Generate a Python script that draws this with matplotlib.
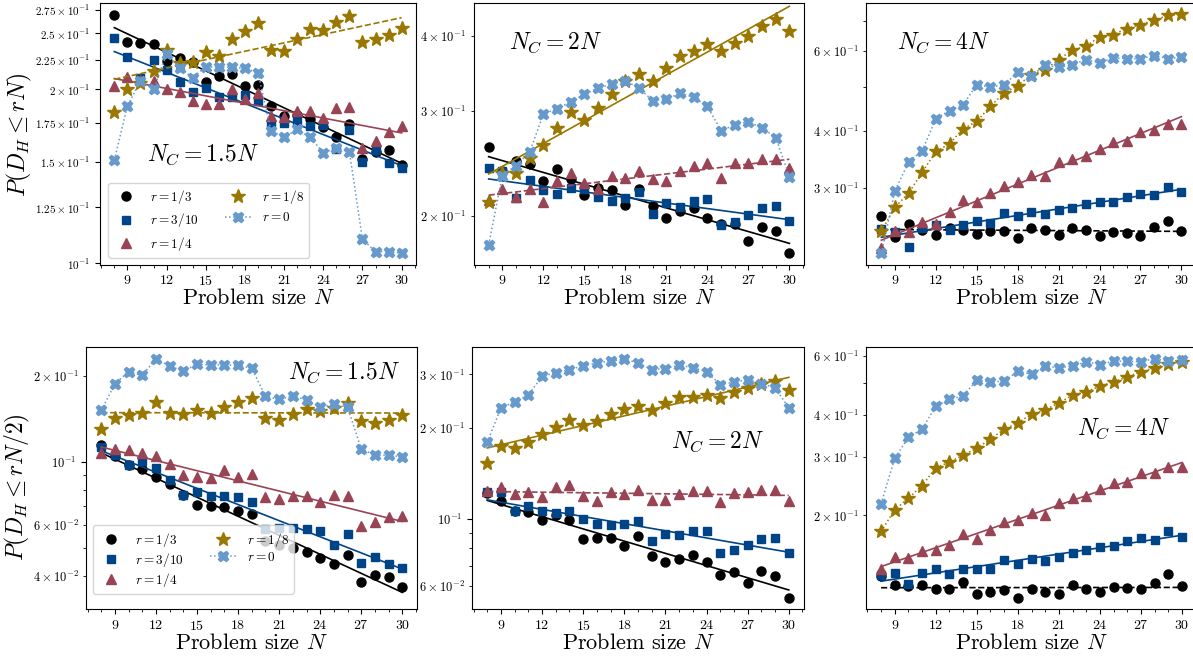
import numpy as np
import matplotlib
matplotlib.use('Agg')
import matplotlib.pyplot as plt
from matplotlib.ticker import FixedLocator, FixedFormatter, NullLocator, MultipleLocator

plt.rcParams['font.family'] = 'serif'
plt.rcParams['font.serif'] = ['cmr10']
plt.rcParams['mathtext.fontset'] = 'cm'
plt.rcParams['axes.formatter.use_mathtext'] = True

# Problem sizes
N = list(range(8, 31))

labels = [r'$r = 1/3$', r'$r = 3/10$', r'$r = 1/4$', r'$r = 1/8$', r'$r = 0$']
colors = ['black', '#004488', '#994455', '#997700', '#6699CC']
markers = ['o', 's', '^', '*', 'X']
msizes = [6.5, 6, 6.5, 10, 7.5]

# ---- P(D_H <= rN), N_C = 1.5N ----
a_r13 = [0.2689, 0.2418, 0.2410, 0.2396, 0.2239, 0.2269, 0.2227, 0.2062, 0.2112, 0.2126, 0.2027, 0.2035,
         0.1872, 0.1801, 0.1805, 0.1777, 0.1724, 0.1652, 0.1742, 0.1515, 0.1560, 0.1571, 0.1480]
a_r310 = [0.2457, 0.2278, 0.2089, 0.2248, 0.2160, 0.2057, 0.1976, 0.2008, 0.1937, 0.1942, 0.1955, 0.1909,
          0.1742, 0.1751, 0.1765, 0.1728, 0.1735, 0.1577, 0.1701, 0.1495, 0.1571, 0.1489, 0.1460]
a_r14 = [0.2027, 0.2098, 0.2075, 0.2070, 0.2000, 0.1976, 0.1911, 0.1886, 0.1886, 0.2000, 0.1922, 0.1974,
         0.1798, 0.1795, 0.1837, 0.1837, 0.1781, 0.1854, 0.1866, 0.1581, 0.1630, 0.1685, 0.1728]
a_r18 = [0.1825, 0.2000, 0.2049, 0.2154, 0.2339, 0.2225, 0.2233, 0.2318, 0.2288, 0.2441, 0.2523, 0.2608,
         0.2339, 0.2332, 0.2441, 0.2540, 0.2530, 0.2612, 0.2679, 0.2418, 0.2441, 0.2483, 0.2557]
a_r0 = [0.1509, 0.1872, 0.2068, 0.2000, 0.2302, 0.2175, 0.2096, 0.2189, 0.2185, 0.2185, 0.2175, 0.2138,
        0.1696, 0.1652, 0.1705, 0.1652, 0.1554, 0.1581, 0.1560, 0.1100, 0.1048, 0.1048, 0.1041]

# ---- P(D_H <= rN), N_C = 2N ----
b_r13 = [0.2604, 0.2382, 0.2473, 0.2442, 0.2292, 0.2398, 0.2306, 0.2164, 0.2226, 0.2211, 0.2086, 0.2222,
         0.2080, 0.1982, 0.2039, 0.2060, 0.1982, 0.1939, 0.1937, 0.1816, 0.1914, 0.1888, 0.1732]
b_r310 = [0.2410, 0.2374, 0.2146, 0.2298, 0.2211, 0.2178, 0.2231, 0.2222, 0.2154, 0.2119, 0.2146, 0.2192,
          0.2015, 0.2100, 0.2073, 0.2121, 0.2132, 0.1931, 0.1957, 0.2008, 0.2060, 0.2079, 0.1962]
b_r14 = [0.2128, 0.2222, 0.2154, 0.2222, 0.2114, 0.2284, 0.2358, 0.2268, 0.2222, 0.2334, 0.2313, 0.2382,
         0.2304, 0.2289, 0.2380, 0.2420, 0.2450, 0.2319, 0.2456, 0.2450, 0.2491, 0.2495, 0.2410]
b_r18 = [0.2108, 0.2358, 0.2358, 0.2505, 0.2630, 0.2812, 0.2990, 0.2890, 0.3038, 0.3202, 0.3368, 0.3460,
         0.3360, 0.3536, 0.3708, 0.3780, 0.3880, 0.3780, 0.3894, 0.4010, 0.4152, 0.4278, 0.4074]
b_r0 = [0.1788, 0.2337, 0.2429, 0.2557, 0.2962, 0.3023, 0.3108, 0.3198, 0.3273, 0.3325, 0.3368, 0.3273,
        0.3121, 0.3136, 0.3210, 0.3160, 0.3050, 0.2780, 0.2840, 0.2878, 0.2806, 0.2706, 0.2328]

# ---- P(D_H <= rN), N_C = 4N ----
c_r13 = [0.2597, 0.2329, 0.2493, 0.2418, 0.2357, 0.2447, 0.2420, 0.2365, 0.2406, 0.2409, 0.2317, 0.2439,
         0.2418, 0.2357, 0.2439, 0.2418, 0.2349, 0.2398, 0.2378, 0.2346, 0.2460, 0.2531, 0.2406]
c_r310 = [0.2427, 0.2390, 0.2221, 0.2439, 0.2481, 0.2418, 0.2481, 0.2531, 0.2510, 0.2640, 0.2589, 0.2655,
          0.2619, 0.2677, 0.2700, 0.2756, 0.2794, 0.2794, 0.2865, 0.2900, 0.2889, 0.3015, 0.2929]
c_r14 = [0.2202, 0.2406, 0.2390, 0.2514, 0.2489, 0.2645, 0.2817, 0.2784, 0.2915, 0.3026, 0.3083, 0.3202,
         0.3173, 0.3409, 0.3471, 0.3525, 0.3653, 0.3774, 0.3805, 0.3977, 0.4024, 0.4141, 0.4141]
c_r18 = [0.2406, 0.2714, 0.2915, 0.3244, 0.3603, 0.3748, 0.4044, 0.4199, 0.4534, 0.4851, 0.5036, 0.5325,
         0.5463, 0.5748, 0.6030, 0.6153, 0.6450, 0.6528, 0.6732, 0.6870, 0.7025, 0.7194, 0.7230]
c_r0 = [0.2147, 0.2954, 0.3414, 0.3620, 0.4257, 0.4435, 0.4572, 0.5061, 0.5000, 0.5055, 0.5390, 0.5298,
        0.5586, 0.5530, 0.5598, 0.5748, 0.5653, 0.5797, 0.5780, 0.5770, 0.5869, 0.5780, 0.5816]

# ---- P(D_H <= rN/2), N_C = 1.5N ----
d_r13 = [0.1141, 0.1047, 0.0974, 0.0945, 0.0886, 0.0838, 0.0764, 0.0705, 0.0700, 0.0694, 0.0672, 0.0658,
         0.0528, 0.0514, 0.0500, 0.0483, 0.0461, 0.0440, 0.0471, 0.0382, 0.0403, 0.0396, 0.0365]
d_r310 = [0.1128, 0.1061, 0.0974, 0.1005, 0.0953, 0.0867, 0.0769, 0.0785, 0.0762, 0.0758, 0.0752, 0.0722,
          0.0584, 0.0588, 0.0588, 0.0583, 0.0575, 0.0511, 0.0561, 0.0445, 0.0464, 0.0441, 0.0426]
d_r14 = [0.1075, 0.1110, 0.1099, 0.1075, 0.1052, 0.0984, 0.0898, 0.0886, 0.0879, 0.0935, 0.0886, 0.0910,
         0.0752, 0.0744, 0.0758, 0.0762, 0.0724, 0.0769, 0.0758, 0.0596, 0.0615, 0.0642, 0.0645]
d_r18 = [0.1305, 0.1426, 0.1457, 0.1484, 0.1622, 0.1484, 0.1465, 0.1517, 0.1484, 0.1558, 0.1622, 0.1666,
         0.1426, 0.1406, 0.1465, 0.1525, 0.1504, 0.1546, 0.1609, 0.1388, 0.1362, 0.1406, 0.1453]
d_r0 = [0.1513, 0.1875, 0.2066, 0.2005, 0.2294, 0.2162, 0.2077, 0.2191, 0.2182, 0.2182, 0.2175, 0.2121,
        0.1698, 0.1652, 0.1698, 0.1644, 0.1553, 0.1587, 0.1553, 0.1110, 0.1055, 0.1055, 0.1041]

# ---- P(D_H <= rN/2), N_C = 2N ----
e_r13 = [0.1215, 0.1141, 0.1063, 0.1052, 0.0987, 0.1026, 0.0987, 0.0857, 0.0864, 0.0864, 0.0815, 0.0874,
         0.0751, 0.0718, 0.0738, 0.0761, 0.0720, 0.0650, 0.0665, 0.0614, 0.0671, 0.0646, 0.0548]
e_r310 = [0.1224, 0.1224, 0.1063, 0.1098, 0.1057, 0.1044, 0.1057, 0.1000, 0.0960, 0.0955, 0.0963, 0.0985,
          0.0842, 0.0893, 0.0881, 0.0913, 0.0913, 0.0771, 0.0790, 0.0817, 0.0857, 0.0864, 0.0771]
e_r14 = [0.1237, 0.1278, 0.1209, 0.1224, 0.1179, 0.1272, 0.1294, 0.1191, 0.1149, 0.1224, 0.1206, 0.1240,
         0.1155, 0.1155, 0.1206, 0.1237, 0.1237, 0.1132, 0.1215, 0.1224, 0.1246, 0.1246, 0.1149]
e_r18 = [0.1533, 0.1741, 0.1719, 0.1789, 0.1906, 0.2016, 0.2120, 0.2041, 0.2110, 0.2213, 0.2305, 0.2364,
         0.2289, 0.2406, 0.2518, 0.2518, 0.2576, 0.2512, 0.2616, 0.2710, 0.2786, 0.2858, 0.2663]
e_r0 = [0.1789, 0.2328, 0.2437, 0.2563, 0.2961, 0.3037, 0.3115, 0.3203, 0.3277, 0.3323, 0.3369, 0.3277,
        0.3115, 0.3139, 0.3218, 0.3162, 0.3063, 0.2779, 0.2830, 0.2886, 0.2798, 0.2710, 0.2328]

# ---- P(D_H <= rN/2), N_C = 4N ----
f_r13 = [0.1315, 0.1242, 0.1230, 0.1236, 0.1206, 0.1208, 0.1262, 0.1160, 0.1178, 0.1195, 0.1133, 0.1206,
         0.1181, 0.1160, 0.1236, 0.1206, 0.1181, 0.1219, 0.1214, 0.1208, 0.1257, 0.1336, 0.1234]
f_r310 = [0.1330, 0.1345, 0.1250, 0.1345, 0.1383, 0.1336, 0.1380, 0.1380, 0.1385, 0.1475, 0.1431, 0.1480,
          0.1458, 0.1502, 0.1544, 0.1580, 0.1609, 0.1615, 0.1680, 0.1711, 0.1692, 0.1800, 0.1719]
f_r14 = [0.1383, 0.1498, 0.1493, 0.1562, 0.1580, 0.1635, 0.1763, 0.1704, 0.1812, 0.1906, 0.1941, 0.2032,
         0.2000, 0.2176, 0.2253, 0.2294, 0.2396, 0.2498, 0.2527, 0.2676, 0.2676, 0.2788, 0.2796]
f_r18 = [0.1792, 0.2079, 0.2253, 0.2458, 0.2782, 0.2886, 0.3034, 0.3178, 0.3388, 0.3620, 0.3790, 0.4014,
         0.4136, 0.4350, 0.4584, 0.4688, 0.4878, 0.5024, 0.5198, 0.5382, 0.5540, 0.5700, 0.5768]
f_r0 = [0.2166, 0.2966, 0.3427, 0.3628, 0.4250, 0.4450, 0.4562, 0.5082, 0.5024, 0.5046, 0.5406, 0.5294,
        0.5596, 0.5532, 0.5604, 0.5768, 0.5660, 0.5800, 0.5788, 0.5768, 0.5898, 0.5788, 0.5828]

panels = [
    # series, line styles ('-'/'--' = exp. fit, ':' = join points), ylim, text, text pos
    dict(ys=[a_r13, a_r310, a_r14, a_r18, a_r0], ls=['-', '-', '-', '--', ':'],
         ylim=(0.0993, 0.2825), note=r'$N_C = 1.5N$', pos=(0.148, 0.42),
         rect=[0.0838, 0.596, 0.2649, 0.3998]),
    dict(ys=[b_r13, b_r310, b_r14, b_r18, b_r0], ls=['-', '-', '--', '-', ':'],
         ylim=(0.1655, 0.455), note=r'$N_C = 2N$', pos=(0.107, 0.848),
         rect=[0.397, 0.596, 0.2773, 0.3998]),
    dict(ys=[c_r13, c_r310, c_r14, c_r18, c_r0], ls=['--', '-', '-', ':', ':'],
         ylim=(0.2023, 0.7674), note=r'$N_C = 4N$', pos=(0.092, 0.848),
         rect=[0.7262, 0.596, 0.2766, 0.3998]),
    dict(ys=[d_r13, d_r310, d_r14, d_r18, d_r0], ls=['-', '-', '-', '--', ':'],
         ylim=(0.0305, 0.252), note=r'$N_C = 1.5N$', pos=(0.609, 0.90),
         rect=[0.0723, 0.0709, 0.2775, 0.4002]),
    dict(ys=[e_r13, e_r310, e_r14, e_r18, e_r0], ls=['-', '-', '--', '-', ':'],
         ylim=(0.0501, 0.370), note=r'$N_C = 2N$', pos=(0.599, 0.64),
         rect=[0.3958, 0.0709, 0.278, 0.4002]),
    dict(ys=[f_r13, f_r310, f_r14, f_r18, f_r0], ls=['--', '-', '-', ':', ':'],
         ylim=(0.1046, 0.639), note=r'$N_C = 4N$', pos=(0.637, 0.688),
         rect=[0.7259, 0.0709, 0.2775, 0.4002]),
]

fig = plt.figure(figsize=(11.93, 6.56), dpi=100)
Narr = np.array(N)

for k, p in enumerate(panels):
    ax = fig.add_axes(p['rect'])
    ax.set_yscale('log')
    for y, ls, c, m, ms, lab in zip(p['ys'], p['ls'], colors, markers, msizes, labels):
        y = np.array(y)
        if ls == ':':
            ax.plot(Narr, y, ls=':', lw=1.1, color=c, marker=m, ms=ms, label=lab)
        else:
            ax.plot(Narr, y, ls='none', color=c, marker=m, ms=ms, label=lab)
            coef = np.polyfit(Narr, np.log(y), 1)
            ax.plot(Narr, np.exp(np.polyval(coef, Narr)), ls=ls, lw=1.2, color=c)
    ax.set_xlim(6.9, 31.1)
    ax.set_ylim(*p['ylim'])
    ax.set_xticks([9, 12, 15, 18, 21, 24, 27, 30])
    ax.xaxis.set_minor_locator(MultipleLocator(1))
    ax.tick_params(axis='x', which='both', labelsize=10, pad=3)
    ax.tick_params(axis='y', which='both', labelsize=9)
    ax.set_xlabel(r'Problem size $N$', fontsize=16, labelpad=0)
    ax.text(p['pos'][0], p['pos'][1], p['note'], transform=ax.transAxes,
            fontsize=17, va='center', ha='left')
    if k == 0:
        vals = [0.1, 0.125, 0.15, 0.175, 0.2, 0.225, 0.25, 0.275]
        labs = [r'$10^{-1}$', r'$1.25\times10^{-1}$', r'$1.5\times10^{-1}$', r'$1.75\times10^{-1}$',
                r'$2\times10^{-1}$', r'$2.25\times10^{-1}$', r'$2.5\times10^{-1}$', r'$2.75\times10^{-1}$']
        ax.yaxis.set_major_locator(FixedLocator(vals))
        ax.yaxis.set_major_formatter(FixedFormatter(labs))
        ax.yaxis.set_minor_locator(NullLocator())
        ax.tick_params(axis='y', labelsize=8)
        ax.set_ylabel(r'$P(D_H \leq rN)$', fontsize=17)
        ax.yaxis.set_label_coords(-0.21, 0.496)
        ax.legend(ncol=2, loc='lower left', bbox_to_anchor=(0.025, 0.027), borderaxespad=0,
                  fontsize=9.5, labelspacing=0.4, handletextpad=0.8)
    if k == 3:
        ax.set_ylabel(r'$P(D_H \leq rN/2)$', fontsize=17)
        ax.yaxis.set_label_coords(-0.165, 0.467)
        ax.legend(ncol=2, loc='lower left', bbox_to_anchor=(0.019, 0.059), borderaxespad=0,
                  fontsize=9.5, labelspacing=0.15, handletextpad=0.8)

fig.savefig('out.png', dpi=100)
